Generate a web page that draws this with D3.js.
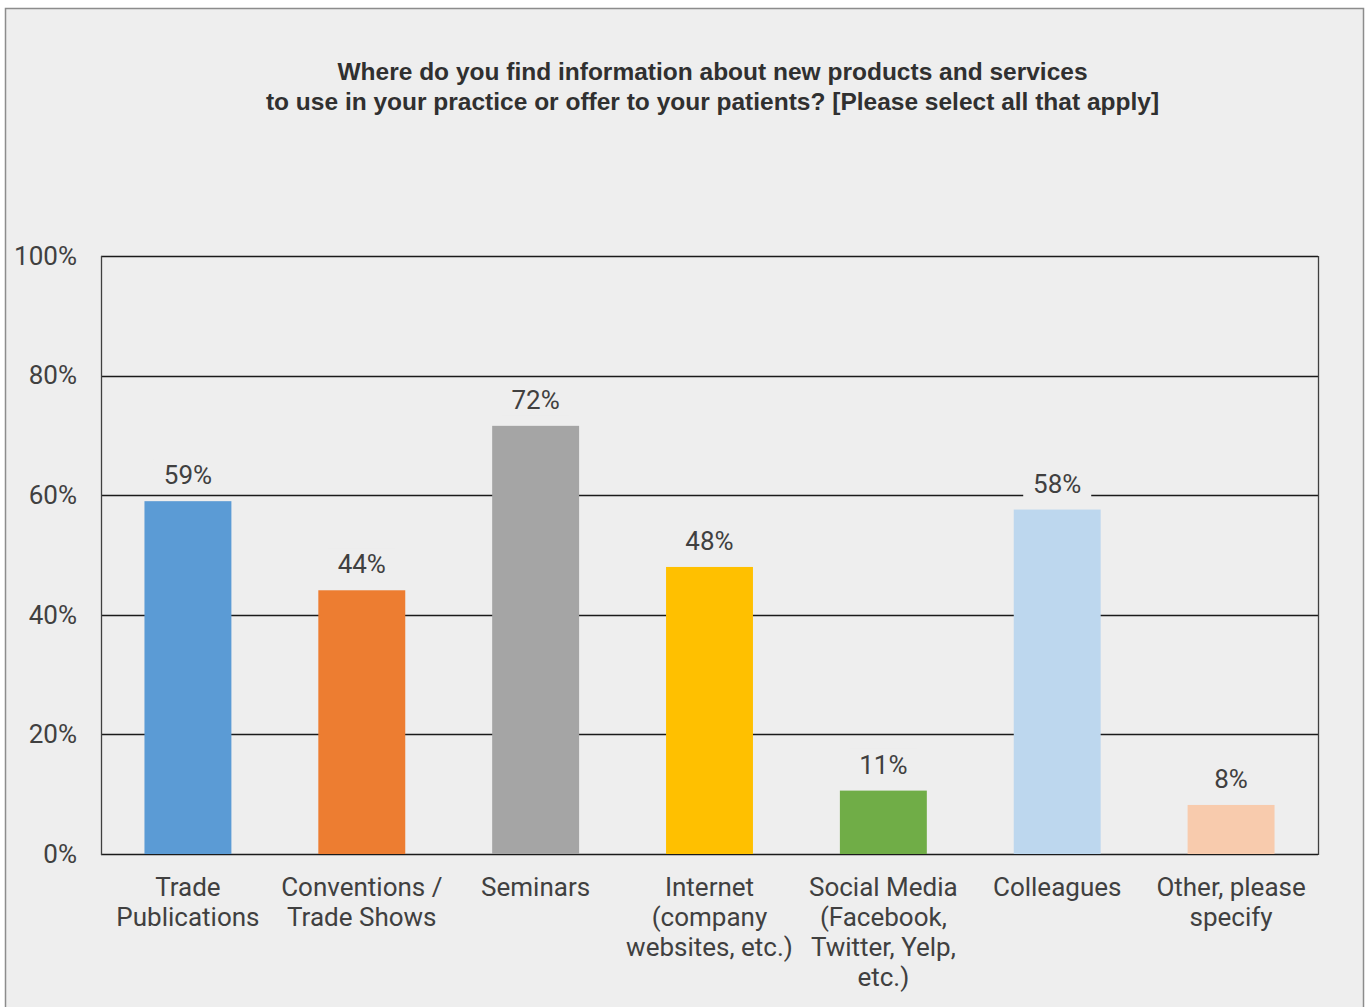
<!DOCTYPE html>
<html lang="en">
<head>
	<meta charset="UTF-8">
	<title>Where do you find information</title>
	<script src="https://d3js.org/d3.v7.min.js"></script>
	<style>
		body { margin: 0; background: #fff; }
		svg { display: block; }
		.lbl { font-family: Roboto, "Liberation Sans", sans-serif; fill: #404040; }
		.ttl { font-family: "Liberation Sans", Arial, sans-serif; font-weight: bold; fill: #303030; }
	</style>
</head>
<body>
<div id="chart"></div>
<script>
	// data
	var categories = [
		["Trade", "Publications"],
		["Conventions /", "Trade Shows"],
		["Seminars"],
		["Internet", "(company", "websites, etc.)"],
		["Social Media", "(Facebook,", "Twitter, Yelp,", "etc.)"],
		["Colleagues"],
		["Other, please", "specify"]
	];
	var values = [0.59, 0.441, 0.716, 0.48, 0.106, 0.576, 0.082];
	var colors = ["#5b9bd5", "#ed7d31", "#a5a5a5", "#ffc000", "#70ad47", "#bdd7ee", "#f8cbad"];
	var yTicks = [0, 0.2, 0.4, 0.6, 0.8, 1];
	var titleLines = [
		"Where do you find information about new products and services",
		"to use in your practice or offer to your patients? [Please select all that apply]"
	];

	var W = 1370, H = 1007;
	var pLeft = 101, pRight = 1318, pTop = 256, pBottom = 854;

	var svg = d3.select("#chart").append("svg")
		.attr("width", W)
		.attr("height", H);

	// frame
	svg.append("rect")
		.attr("x", 5.5).attr("y", 8.5)
		.attr("width", 1358).attr("height", 1010)
		.attr("fill", "#eeeeee")
		.attr("stroke", "#8c8c8c")
		.attr("stroke-width", 1.5);

	var x = d3.scaleBand()
		.domain(d3.range(values.length))
		.range([pLeft, pRight])
		.paddingInner(0.5)
		.paddingOuter(0.25);

	var y = d3.scaleLinear()
		.domain([0, 1])
		.range([pBottom, pTop]);

	// title
	var cx = (pLeft + pRight) / 2 + 3;
	svg.append("text")
		.attr("class", "ttl")
		.attr("x", cx)
		.attr("y", 80)
		.attr("text-anchor", "middle")
		.attr("font-size", 24.5)
		.selectAll("tspan")
		.data(titleLines)
		.enter().append("tspan")
		.attr("x", cx)
		.attr("dy", function (d, i) { return i ? 30 : 0; })
		.text(function (d) { return d; });

	// gridlines
	svg.append("g").selectAll("line")
		.data(yTicks)
		.enter().append("line")
		.attr("x1", pLeft).attr("x2", pRight)
		.attr("y1", function (d) { return Math.round(y(d)) + 0.5; })
		.attr("y2", function (d) { return Math.round(y(d)) + 0.5; })
		.attr("stroke", "#1a1a1a")
		.attr("stroke-width", 1.5);

	// side borders of plot
	svg.append("g").selectAll("line")
		.data([pLeft, pRight])
		.enter().append("line")
		.attr("x1", function (d) { return d + 0.5; })
		.attr("x2", function (d) { return d + 0.5; })
		.attr("y1", pTop).attr("y2", pBottom + 1)
		.attr("stroke", "#404040")
		.attr("stroke-width", 1.3);

	// y axis labels
	var yAxis = d3.axisLeft(y)
		.tickValues(yTicks)
		.tickFormat(d3.format(".0%"))
		.tickSize(0)
		.tickPadding(24);
	var ga = svg.append("g")
		.attr("transform", "translate(" + pLeft + ",0)")
		.call(yAxis);
	ga.select(".domain").remove();
	ga.selectAll("text")
		.attr("class", "lbl")
		.attr("font-size", 26)
		.attr("fill", "#404040");

	// bars
	svg.append("g").selectAll("rect")
		.data(values)
		.enter().append("rect")
		.attr("x", function (d, i) { return x(i); })
		.attr("y", function (d) { return y(d); })
		.attr("width", x.bandwidth())
		.attr("height", function (d) { return pBottom - y(d); })
		.attr("fill", function (d, i) { return colors[i]; });

	// value labels with background
	var fmt = d3.format(".0%");
	var vl = svg.append("g").selectAll("g")
		.data(values)
		.enter().append("g")
		.attr("transform", function (d, i) {
			return "translate(" + (x(i) + x.bandwidth() / 2) + "," + (y(d) - 26) + ")";
		});
	vl.append("rect")
		.attr("x", -34).attr("y", -16)
		.attr("width", 68).attr("height", 32)
		.attr("fill", "#eeeeee");
	vl.append("text")
		.attr("class", "lbl")
		.attr("text-anchor", "middle")
		.attr("dy", "0.35em")
		.attr("font-size", 26)
		.text(function (d) { return fmt(d); });

	// category labels
	var cl = svg.append("g").selectAll("text")
		.data(categories)
		.enter().append("text")
		.attr("class", "lbl")
		.attr("text-anchor", "middle")
		.attr("font-size", 26)
		.attr("y", 887);
	cl.selectAll("tspan")
		.data(function (d, i) { return d.map(function (s) { return { s: s, i: i }; }); })
		.enter().append("tspan")
		.attr("x", function (d) { return x(d.i) + x.bandwidth() / 2; })
		.attr("dy", function (d, j) { return j ? 30 : "0.35em"; })
		.text(function (d) { return d.s; });
</script>
</body>
</html>
